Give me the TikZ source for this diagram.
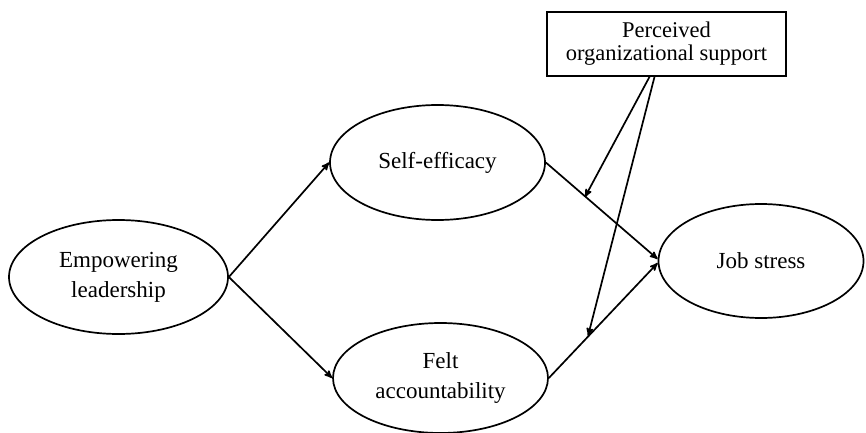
\documentclass[tikz,border=0pt]{standalone}
\usepackage{fontspec}
\setmainfont{Liberation Serif}
\usetikzlibrary{shapes.geometric,arrows,calc}

\begin{document}
\begin{tikzpicture}[x=1pt,y=1pt,->,>=stealth',line width=1.7pt,
    var/.style={ellipse,draw,inner sep=0pt,align=center,
      font=\fontsize{23}{30}\selectfont},
    mod box/.style={rectangle,draw,inner sep=0pt,align=center,
      minimum width=239pt,minimum height=64pt,
      font=\fontsize{22.5}{23}\selectfont}]

\useasboundingbox (0,0) rectangle (866,432);

\node[var,minimum width=219pt,minimum height=114pt] (lead) at (118.5,155) {Empowering\\leadership};
\node[var,minimum width=215pt,minimum height=115pt] (self) at (437.5,269.5) {Self-efficacy};
\node[var,minimum width=215pt,minimum height=110pt] (felt) at (440.5,54) {Felt\\accountability};
\node[var,minimum width=205pt,minimum height=114pt] (job) at (761,171) {Job stress};
\node[mod box] (pos) at (666.5,388) {Perceived\\organizational support};

\coordinate (m1) at ($(self.east)!0.35!(job.west)$);
\coordinate (m2) at ($(felt.east)!0.36!(job.west)$);

\path
(lead.east) edge (self.west)
(lead.east) edge (felt.west)
(self.east) edge ([yshift=2pt]job.west)
(felt.east) edge ([yshift=-2pt]job.west)
([xshift=-17pt]pos.south) edge (m1)
([xshift=-12pt]pos.south) edge (m2)
;

\end{tikzpicture}
\end{document}
